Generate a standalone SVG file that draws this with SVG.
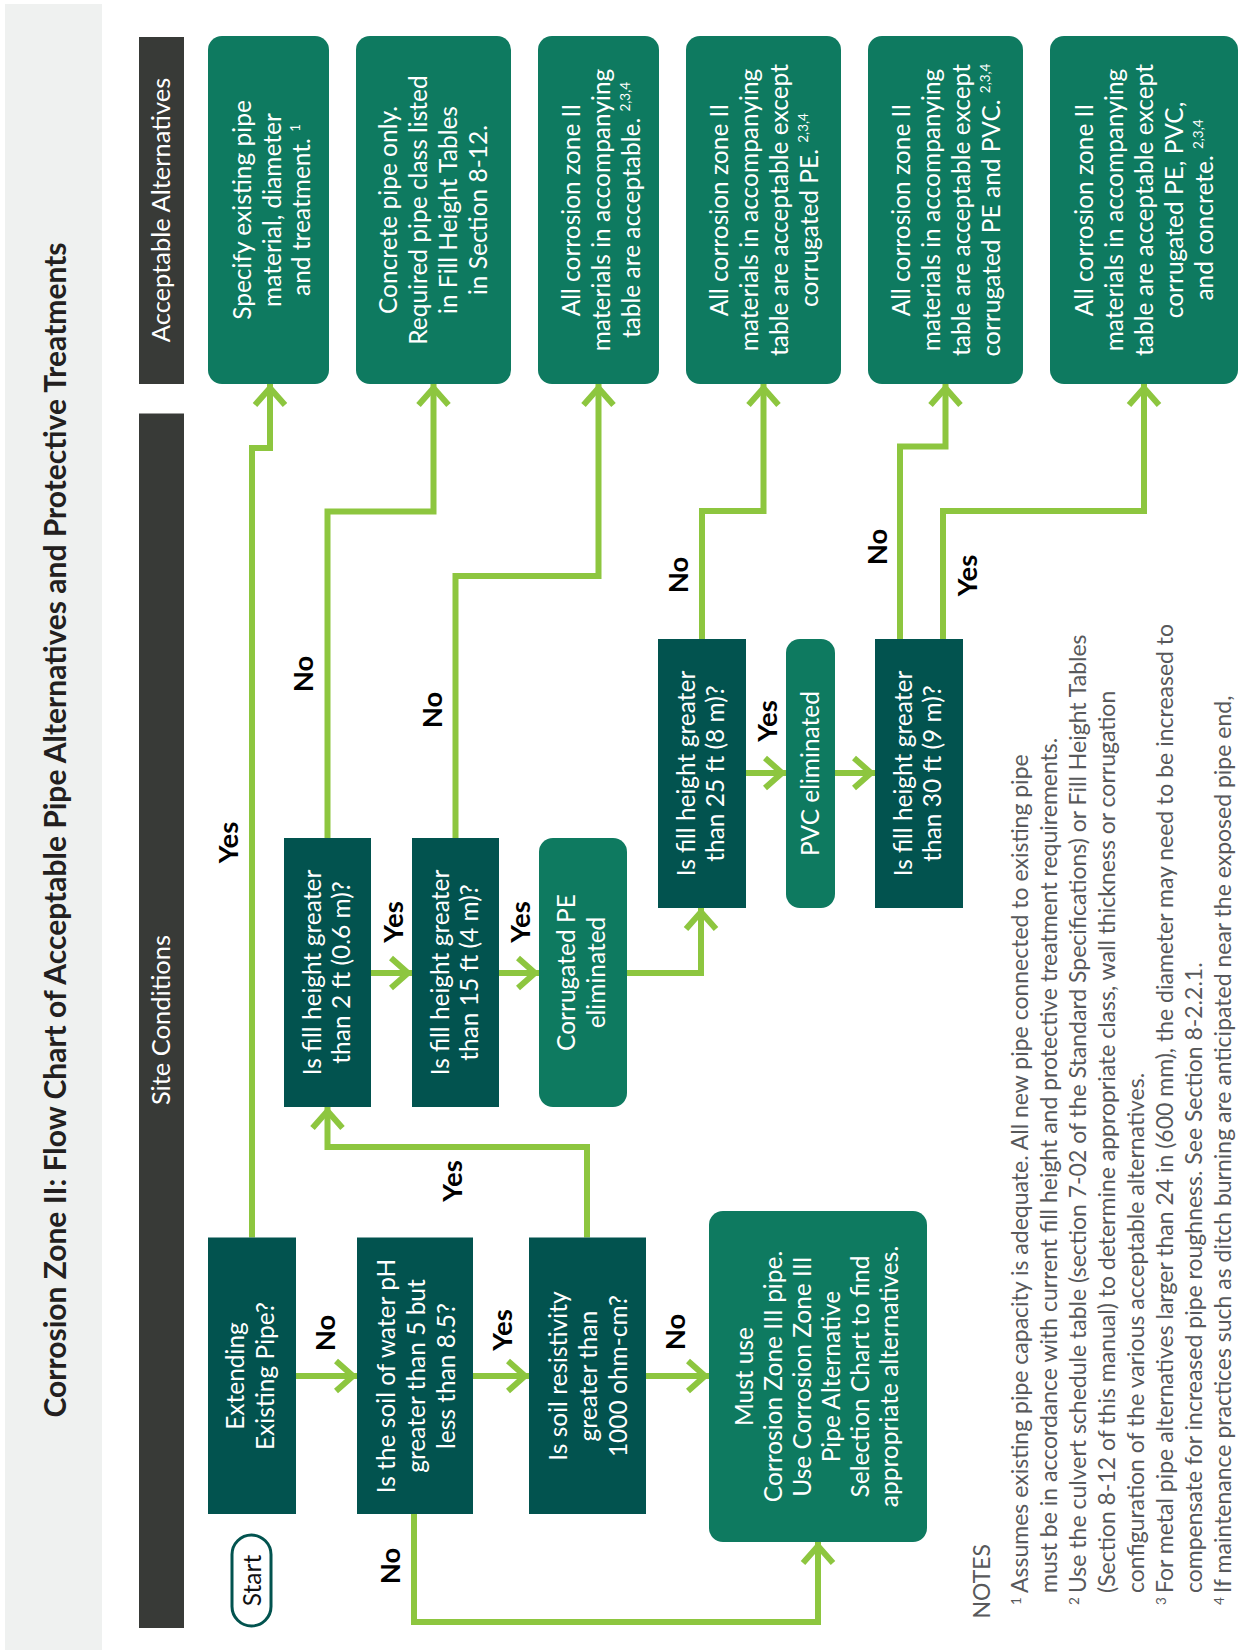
<svg xmlns="http://www.w3.org/2000/svg" width="1241" height="1650" viewBox="0 0 1241 1650">
<defs>
<style>
.band{fill:#eff1f0}
.bar{fill:#383a37}
.dk{fill:#02534f}
.md{fill:#0e7a60}
.ttl{font-family:Lato,'Liberation Sans',sans-serif;font-weight:bold;font-size:30px;fill:#231f20;text-anchor:middle}
.hdr{font-family:Lato,'Liberation Sans',sans-serif;font-size:25.5px;fill:#ffffff;text-anchor:middle}
.nt{font-family:Lato,'Liberation Sans',sans-serif;font-size:24.5px;fill:#ffffff;text-anchor:middle}
.lbl{font-family:Lato,'Liberation Sans',sans-serif;font-weight:bold;font-size:27.5px;fill:#000000;text-anchor:middle}
.note{font-family:Lato,'Liberation Sans',sans-serif;font-size:23px;fill:#58595b}
.sup{font-size:13.5px}
.cn{fill:none;stroke:#8dc63f;stroke-width:6;marker-end:url(#ah)}
</style>
<marker id="ah" markerUnits="userSpaceOnUse" markerWidth="40" markerHeight="40" viewBox="-25 -20 30 40" refX="0" refY="0" orient="auto" overflow="visible">
<path d="M-21,-15 L-4,0 L-21,15" fill="none" stroke="#8dc63f" stroke-width="6"/>
</marker>
</defs>
<g transform="translate(0,1650) rotate(-90)">
<g id="header">
<rect class="band" x="0" y="5" width="1646" height="97"/>
<text class="ttl" x="820" y="66">Corrosion Zone II: Flow Chart of Acceptable Pipe Alternatives and Protective Treatments</text>
<rect class="bar" x="1266" y="139" width="347" height="45"/>
<text class="hdr" x="1440" y="170">Acceptable Alternatives</text>
<rect class="bar" x="22" y="139" width="1214.5" height="45"/>
<text class="hdr" x="630" y="170">Site Conditions</text>
</g>
<g id="connectors">
<path class="cn" d="M412.5,252 H1202 V270 H1266"/>
<path class="cn" d="M274,296 V357"/>
<path class="cn" d="M274,473 V529"/>
<path class="cn" d="M274,646 V709"/>
<path class="cn" d="M136,414 H28 V818 H108"/>
<path class="cn" d="M412.5,587 H503 V327.5 H543"/>
<path class="cn" d="M677,371 V412"/>
<path class="cn" d="M677,499 V539"/>
<path class="cn" d="M677,627 V701 H742"/>
<path class="cn" d="M812,327.5 H1138.5 V433.5 H1266"/>
<path class="cn" d="M812,455.5 H1074 V598.5 H1266"/>
<path class="cn" d="M1011,702 H1139 V763.5 H1266"/>
<path class="cn" d="M877,746 V786"/>
<path class="cn" d="M877,835 V875"/>
<path class="cn" d="M1011,900 H1203.5 V945.5 H1266"/>
<path class="cn" d="M1011,943 H1139 V1144 H1266"/>
<text class="lbl" x="807.5" y="238">Yes</text>
<text class="lbl" x="317" y="335">No</text>
<text class="lbl" x="320" y="512">Yes</text>
<text class="lbl" x="318" y="685">No</text>
<text class="lbl" x="84" y="400">No</text>
<text class="lbl" x="469" y="462">Yes</text>
<text class="lbl" x="728" y="403">Yes</text>
<text class="lbl" x="728" y="530">Yes</text>
<text class="lbl" x="976" y="313">No</text>
<text class="lbl" x="940" y="442">No</text>
<text class="lbl" x="1075" y="688">No</text>
<text class="lbl" x="929" y="777">Yes</text>
<text class="lbl" x="1103" y="887">No</text>
<text class="lbl" x="1074.5" y="977">Yes</text>
</g>
<g id="start">
<rect x="24" y="232" width="91" height="39" rx="19.5" fill="#ffffff" stroke="#02534f" stroke-width="3"/>
<text class="nt" x="69.5" y="260.5" style="fill:#111111">Start</text>
</g>
<g id="extending">
<rect class="dk" x="136" y="208" width="276.5" height="88"/>
<text class="nt" x="274" y="244">Extending</text>
<text class="nt" x="274" y="274">Existing Pipe?</text>
</g>
<g id="ph">
<rect class="dk" x="136" y="357" width="276.5" height="116"/>
<text class="nt" x="274" y="395">Is the soil of water pH</text>
<text class="nt" x="274" y="425">greater than 5 but</text>
<text class="nt" x="274" y="455">less than 8.5?</text>
</g>
<g id="resistivity">
<rect class="dk" x="136" y="529" width="276.5" height="117"/>
<text class="nt" x="274" y="567">Is soil resistivity</text>
<text class="nt" x="274" y="597">greater than</text>
<text class="nt" x="274" y="627">1000 ohm-cm?</text>
</g>
<g id="mustuse">
<rect class="md" x="108" y="709" width="331" height="218" rx="14"/>
<text class="nt" x="273.5" y="753">Must use</text>
<text class="nt" x="273.5" y="782">Corrosion Zone III pipe.</text>
<text class="nt" x="273.5" y="811">Use Corrosion Zone III</text>
<text class="nt" x="273.5" y="840">Pipe Alternative</text>
<text class="nt" x="273.5" y="869">Selection Chart to find</text>
<text class="nt" x="273.5" y="898">appropriate alternatives.</text>
</g>
<g id="fill2">
<rect class="dk" x="543" y="284" width="269" height="87"/>
<text class="nt" x="677.5" y="321">Is fill height greater</text>
<text class="nt" x="677.5" y="350">than 2 ft (0.6 m)?</text>
</g>
<g id="fill15">
<rect class="dk" x="543" y="412" width="269" height="87"/>
<text class="nt" x="677.5" y="449">Is fill height greater</text>
<text class="nt" x="677.5" y="478">than 15 ft (4 m)?</text>
</g>
<g id="corrpe">
<rect class="md" x="543" y="539" width="269" height="88" rx="14"/>
<text class="nt" x="677.5" y="575">Corrugated PE</text>
<text class="nt" x="677.5" y="605">eliminated</text>
</g>
<g id="fill25">
<rect class="dk" x="742" y="658" width="269" height="88"/>
<text class="nt" x="876.5" y="695">Is fill height greater</text>
<text class="nt" x="876.5" y="724">than 25 ft (8 m)?</text>
</g>
<g id="pvc">
<rect class="md" x="742" y="786" width="269" height="49" rx="14"/>
<text class="nt" x="876.5" y="819">PVC eliminated</text>
</g>
<g id="fill30">
<rect class="dk" x="742" y="875" width="269" height="88"/>
<text class="nt" x="876.5" y="912">Is fill height greater</text>
<text class="nt" x="876.5" y="941">than 30 ft (9 m)?</text>
</g>
<g id="alt1">
<rect class="md" x="1266" y="208" width="348" height="121" rx="14"/>
<text class="nt" x="1440" y="251">Specify existing pipe</text>
<text class="nt" x="1440" y="281">material, diameter</text>
<text class="nt" x="1440" y="310">and treatment. <tspan class="sup" dy="-10">1</tspan></text>
</g>
<g id="alt2">
<rect class="md" x="1266" y="356" width="348" height="155" rx="14"/>
<text class="nt" x="1440" y="397">Concrete pipe only.</text>
<text class="nt" x="1440" y="427">Required pipe class listed</text>
<text class="nt" x="1440" y="457">in Fill Height Tables</text>
<text class="nt" x="1440" y="487">in Section 8-12.</text>
</g>
<g id="alt3">
<rect class="md" x="1266" y="538" width="348" height="121" rx="14"/>
<text class="nt" x="1440" y="580">All corrosion zone II</text>
<text class="nt" x="1440" y="610">materials in accompanying</text>
<text class="nt" x="1440" y="640">table are acceptable. <tspan class="sup" dy="-10">2,3,4</tspan></text>
</g>
<g id="alt4">
<rect class="md" x="1266" y="686" width="348" height="155" rx="14"/>
<text class="nt" x="1440" y="728">All corrosion zone II</text>
<text class="nt" x="1440" y="758">materials in accompanying</text>
<text class="nt" x="1440" y="788">table are acceptable except</text>
<text class="nt" x="1440" y="818">corrugated PE. <tspan class="sup" dy="-10">2,3,4</tspan></text>
</g>
<g id="alt5">
<rect class="md" x="1266" y="868" width="348" height="155" rx="14"/>
<text class="nt" x="1440" y="910">All corrosion zone II</text>
<text class="nt" x="1440" y="940">materials in accompanying</text>
<text class="nt" x="1440" y="970">table are acceptable except</text>
<text class="nt" x="1440" y="1000">corrugated PE and PVC. <tspan class="sup" dy="-10">2,3,4</tspan></text>
</g>
<g id="alt6">
<rect class="md" x="1266" y="1050" width="348" height="188" rx="14"/>
<text class="nt" x="1440" y="1093">All corrosion zone II</text>
<text class="nt" x="1440" y="1123">materials in accompanying</text>
<text class="nt" x="1440" y="1153">table are acceptable except</text>
<text class="nt" x="1440" y="1183">corrugated PE, PVC,</text>
<text class="nt" x="1440" y="1213">and concrete. <tspan class="sup" dy="-10">2,3,4</tspan></text>
</g>
<g id="notes">
<text class="note" x="31.5" y="990">NOTES</text>
<text class="note sup" x="45" y="1021">1</text>
<text class="note" x="57" y="1028">Assumes existing pipe capacity is adequate. All new pipe connected to existing pipe</text>
<text class="note" x="57" y="1057">must be in accordance with current fill height and protective treatment requirements.</text>
<text class="note sup" x="45" y="1079">2</text>
<text class="note" x="57" y="1086">Use the culvert schedule table (section 7-02 of the Standard Specifications) or Fill Height Tables</text>
<text class="note" x="57" y="1115">(Section 8-12 of this manual) to determine appropriate class, wall thickness or corrugation</text>
<text class="note" x="57" y="1144">configuration of the various acceptable alternatives.</text>
<text class="note sup" x="45" y="1166">3</text>
<text class="note" x="57" y="1173">For metal pipe alternatives larger than 24 in (600 mm), the diameter may need to be increased to</text>
<text class="note" x="57" y="1202">compensate for increased pipe roughness. See Section 8-2.2.1.</text>
<text class="note sup" x="45" y="1224">4</text>
<text class="note" x="57" y="1231">If maintenance practices such as ditch burning are anticipated near the exposed pipe end,</text>
</g>
</g>
</svg>
